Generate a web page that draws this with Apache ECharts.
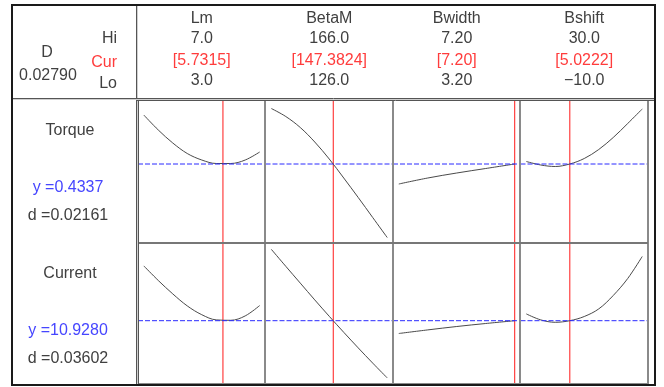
<!DOCTYPE html>
<html>
<head>
<meta charset="utf-8">
<script src="https://cdn.jsdelivr.net/npm/echarts@6/dist/echarts.min.js"></script>
<style>html,body{margin:0;padding:0;background:#fff}#c{width:664px;height:387px}</style>
</head>
<body>
<div id="c"></div>
<script>
// ---- data ----
const factorNames = ['Lm', 'BetaM', 'Bwidth', 'Bshift'];
const hiLabels = ['7.0', '166.0', '7.20', '30.0'];
const curLabels = ['[5.7315]', '[147.3824]', '[7.20]', '[5.0222]'];
const loLabels = ['3.0', '126.0', '3.20', '\u221210.0'];
const loValues = [3.0, 126.0, 3.20, -10.0];
const hiValues = [7.0, 166.0, 7.20, 30.0];
const curValues = [5.7315, 147.3824, 7.20, 5.0222];

const lmX = [3.0, 3.5, 4.0, 4.5, 5.0, 5.5, 6.0, 6.5, 7.0];
const betaX = [126, 131, 136, 141, 146, 151, 156, 161, 166];
const bwidthX = [3.2, 4.2, 5.2, 6.2, 7.2];
const bshiftX = [-10, -5, 0, 5, 10, 15, 20, 25, 30];

const torqueLm = [0.4435, 0.4405, 0.4379, 0.4358, 0.4345, 0.4338, 0.4338, 0.4345, 0.4361];
const torqueBeta = [0.4448, 0.4432, 0.4410, 0.4381, 0.4347, 0.4309, 0.4270, 0.4230, 0.4190];
const torqueBwidth = [0.4297, 0.4309, 0.4319, 0.4328, 0.4337];
const torqueBshift = [0.4342, 0.4335, 0.4332, 0.4337, 0.4348, 0.4366, 0.4390, 0.4418, 0.4447];

const currentLm = [11.202, 11.129, 11.062, 11.002, 10.958, 10.932, 10.930, 10.952, 11.004];
const currentBeta = [11.285, 11.200, 11.116, 11.032, 10.950, 10.870, 10.792, 10.716, 10.642];
const currentBwidth = [10.864, 10.882, 10.899, 10.914, 10.928];
const currentBshift = [10.962, 10.932, 10.920, 10.928, 10.949, 10.987, 11.054, 11.139, 11.249];

const responseNames = ['Torque', 'Current'];
const yLabels = ['y =0.4337', 'y =10.9280'];
const dLabels = ['d =0.02161', 'd =0.03602'];
const yValues = [0.4337, 10.928];
const compositeD = '0.02790';

// ---- layout ----
const xs = [lmX, betaX, bwidthX, bshiftX];
const ys = [[torqueLm, torqueBeta, torqueBwidth, torqueBshift],
            [currentLm, currentBeta, currentBwidth, currentBshift]];
const yRanges = [[0.4179, 0.4465], [10.6065, 11.3165]];
const plotLeft = 138, colW = 127.5;
const rowTop = [100, 243], rowH = [143, 142];
const FONT = '"Liberation Sans", Arial, sans-serif';
const TXT = '#404040', RED = '#ff3c3c', BLUE = '#4646ff';

const grids = [], xAxes = [], yAxes = [], series = [];
for (let r = 0; r < 2; r++) {
  for (let c = 0; c < 4; c++) {
    const i = r * 4 + c;
    grids.push({left: plotLeft + c * colW, top: rowTop[r], width: colW, height: rowH[r]});
    const pad = (hiValues[c] - loValues[c]) * 0.05;
    const xMin = loValues[c] - pad, xMax = hiValues[c] + pad;
    xAxes.push({type: 'value', gridIndex: i, min: xMin, max: xMax, show: false});
    yAxes.push({type: 'value', gridIndex: i, min: yRanges[r][0], max: yRanges[r][1], show: false});
    // response curve
    series.push({
      type: 'line', xAxisIndex: i, yAxisIndex: i, z: 3,
      data: xs[c].map((x, k) => [x, ys[r][c][k]]),
      smooth: 0.35, showSymbol: false, symbol: 'none',
      lineStyle: {color: '#4a4a4a', width: 1},
      itemStyle: {color: '#4a4a4a'},
      silent: true, animation: false
    });
    // current factor setting (red vertical)
    series.push({
      type: 'line', xAxisIndex: i, yAxisIndex: i, z: 2,
      data: [[curValues[c], yRanges[r][0]], [curValues[c], yRanges[r][1]]],
      showSymbol: false, symbol: 'none',
      lineStyle: {color: '#ff1a1a', width: 1},
      itemStyle: {color: '#ff1a1a'},
      silent: true, animation: false
    });
    // predicted response (blue dashed horizontal)
    series.push({
      type: 'line', xAxisIndex: i, yAxisIndex: i, z: 4,
      data: [[xMin, yValues[r]], [xMax, yValues[r]]],
      showSymbol: false, symbol: 'none',
      lineStyle: {color: '#2a2aff', width: 1, type: [5, 2]},
      itemStyle: {color: '#2a2aff'},
      silent: true, animation: false
    });
  }
}

const g = [];
function txt(x, y, s, color, align) {
  g.push({type: 'text', x: x, y: y, silent: true, z: 10,
    style: {text: s, fill: color, font: '16px ' + FONT, align: align || 'center', verticalAlign: 'middle'}});
}
function ln(x1, y1, x2, y2, color, w) {
  g.push({type: 'line', silent: true, z: 5, shape: {x1, y1, x2, y2}, style: {stroke: color, lineWidth: w}});
}
// header left panel
txt(47, 52.5, 'D', TXT);
txt(48, 76, compositeD, TXT);
txt(117, 38.5, 'Hi', TXT, 'right');
txt(117, 62.5, 'Cur', RED, 'right');
txt(117, 84, 'Lo', TXT, 'right');
// factor headers
for (let c = 0; c < 4; c++) {
  const cx = plotLeft + c * colW + colW / 2;
  txt(cx, 18.5, factorNames[c], TXT);
  txt(cx, 38.5, hiLabels[c], TXT);
  txt(cx, 60.5, curLabels[c], RED);
  txt(cx, 81, loLabels[c], TXT);
}
// response labels
const respY = [[131, 188, 216], [274, 331, 359]];
for (let r = 0; r < 2; r++) {
  txt(70, respY[r][0], responseNames[r], TXT);
  txt(68, respY[r][1], yLabels[r], BLUE);
  txt(68, respY[r][2], dLabels[r], TXT);
}
// cell borders
for (let c = 1; c <= 4; c++) {
  const x = Math.floor(plotLeft + c * colW);
  ln(x, 100, x, 385, '#8a8a8a', 2);
}
ln(138, 243, 648, 243, '#777777', 2);
ln(138, 384, 648, 384, '#8a8a8a', 2);
// double separator lines
ln(136.5, 5, 136.5, 385, '#555555', 1);
ln(137.5, 5, 137.5, 385, '#cfcfcf', 1);
ln(138.5, 99, 138.5, 385, '#555555', 1);
ln(12, 98.5, 655, 98.5, '#555555', 1);
ln(12, 99.5, 655, 99.5, '#cfcfcf', 1);
ln(136, 100.5, 655, 100.5, '#555555', 1);
// outer frame
g.push({type: 'rect', silent: true, z: 6, shape: {x: 12, y: 5, width: 643, height: 380},
  style: {fill: 'none', stroke: '#1a1a1a', lineWidth: 2}});

const chart = echarts.init(document.getElementById('c'), null, {renderer: 'canvas'});
chart.setOption({
  animation: false,
  backgroundColor: '#ffffff',
  grid: grids, xAxis: xAxes, yAxis: yAxes, series: series,
  graphic: {elements: g}
});
</script>
</body>
</html>
